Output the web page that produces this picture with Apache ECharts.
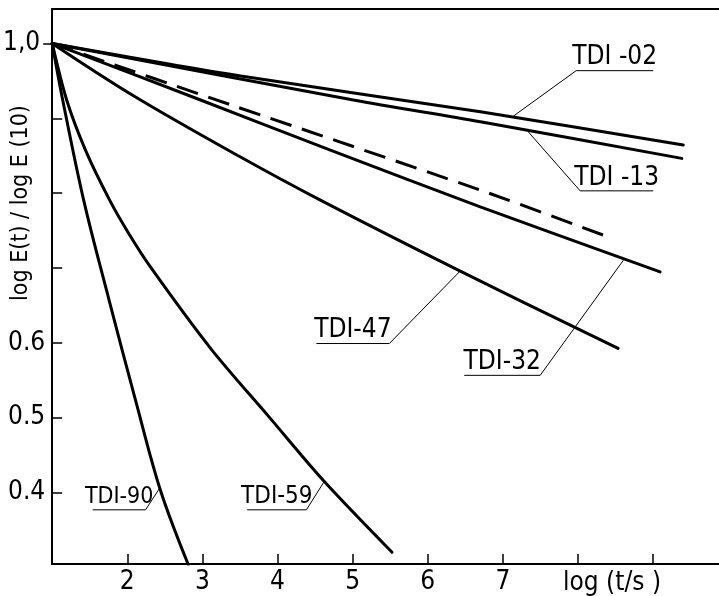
<!DOCTYPE html>
<html><head><meta charset="utf-8">
<script src="https://cdn.jsdelivr.net/npm/echarts@6/dist/echarts.min.js"></script>
<style>html,body{margin:0;padding:0;background:#fff}#c{width:719px;height:596px}</style>
</head><body><div id="c"></div>
<script>
const FONT = "'DejaVu Sans Condensed','Liberation Sans Narrow','Liberation Sans',sans-serif";

// ---- data (log(t/s), logE(t)/logE(10)) ----
const tdi02X = [1, 3.51, 6.70, 9.40];
const tdi02Y = [1.0, 0.9565, 0.9088, 0.8642];
const tdi13X = [1, 5.01, 6.70, 9.38];
const tdi13Y = [1.0, 0.9244, 0.8954, 0.8464];
const dashX = [1, 3.375, 6.698, 8.40];
const dashY = [1.0, 0.918, 0.804, 0.7415];
const tdi32X = [1, 2.975, 4.703, 6.698, 9.092];
const tdi32Y = [1.0, 0.9244, 0.8575, 0.7817, 0.6947];
const tdi47X = [1, 2.110, 3.507, 4.570, 6.432, 8.533];
const tdi47Y = [1.0, 0.9284, 0.8482, 0.7906, 0.6957, 0.5926];
const tdi59X = [1, 1.193, 1.443, 1.765, 2.017, 2.310, 3.108, 3.892, 4.610, 5.524];
const tdi59Y = [1.0, 0.9244, 0.8575, 0.7906, 0.7464, 0.7010, 0.5926, 0.5003, 0.4160, 0.3201];
const tdi90X = [1, 1.140, 1.419, 1.758, 2.110, 2.442, 2.811];
const tdi90Y = [1.0, 0.9244, 0.7906, 0.6568, 0.5231, 0.4027, 0.3037];

// ---- axes ----
const xTickValues = [2, 3, 4, 5, 6, 7, 8, 9];
const xLabelValues = [2, 3, 4, 5, 6, 7];
const xAxisTitle = 'log (t/s )';
const yTickValues = [0.4, 0.5, 0.6, 0.7, 0.8, 0.9];
const yLabelValues = [0.4, 0.5, 0.6, 1.0];
const yLabelTexts = ['0.4', '0.5', '0.6', '1,0'];
const yAxisTitle = 'log E(t) / log E (10)';

// ---- curve annotations (data coords) ----
const labelNames = ['TDI -02', 'TDI -13', 'TDI-47', 'TDI-32', 'TDI-90', 'TDI-59'];
const labelFontPx = [26, 26, 26, 26, 23, 24];
const leaderTipX = [7.141, 7.336, 6.432, 8.604, 2.434, 4.624];
const leaderTipY = [0.903, 0.882, 0.696, 0.7104, 0.4063, 0.4151];
const elbowX = [7.975, 8.028, 5.488, 7.496, 2.243, 4.384];
const elbowY = [0.9636, 0.803, 0.599, 0.5565, 0.3768, 0.3768];
const underlineEndX = [9.00, 9.00, 4.517, 6.485, 1.539, 3.596];

const zip = (xs, ys) => xs.map((x, i) => [x, ys[i]]);
const X_MIN = 1, X_MAX = 9.876, Y_MIN = 0.3044, Y_MAX = 1.046;

const chart = echarts.init(document.getElementById('c'), null, {renderer: 'canvas'});
const solid = {color: '#000', width: 3, cap: 'round'};
function ser(xs, ys, smooth, dashed) {
  return {
    type: 'line', data: zip(xs, ys), showSymbol: false, smooth: smooth,
    lineStyle: Object.assign({}, solid, dashed ? {type: [22, 11], cap: 'butt'} : {}),
    silent: true
  };
}
const axisTextStyle = {color: '#000', fontFamily: FONT, fontSize: 26};

chart.setOption({
  animation: false,
  backgroundColor: '#fff',
  grid: {left: 51, right: 0, top: 9, bottom: 32, containLabel: false},
  xAxis: [{
    type: 'value', min: X_MIN, max: X_MAX, position: 'bottom',
    axisLine: {show: true, lineStyle: {color: '#000', width: 2}},
    axisTick: {show: true, inside: true, length: 10, customValues: xTickValues, lineStyle: {color: '#000', width: 1.5}},
    axisLabel: Object.assign({customValues: xLabelValues, margin: 5, formatter: v => String(Math.round(v))}, axisTextStyle),
    splitLine: {show: false}
  }, {
    type: 'value', min: X_MIN, max: X_MAX, position: 'top',
    axisLine: {show: true, onZero: false, lineStyle: {color: '#000', width: 2}},
    axisTick: {show: false}, axisLabel: {show: false}, splitLine: {show: false}
  }],
  yAxis: [{
    type: 'value', min: Y_MIN, max: Y_MAX, position: 'left',
    axisLine: {show: true, lineStyle: {color: '#000', width: 2}},
    axisTick: {show: true, inside: true, length: 10, customValues: yTickValues, lineStyle: {color: '#000', width: 1.5}},
    axisLabel: Object.assign({
      customValues: yLabelValues, margin: 7,
      formatter: v => {
        const i = yLabelValues.findIndex(u => Math.abs(u - v) < 1e-6);
        const t = i >= 0 ? yLabelTexts[i] : '';
        return Math.abs(v - 1) < 1e-6 ? '{o|' + t + '}' : t;
      },
      rich: {o: {padding: [0, 5, 0, 0], color: '#000', fontFamily: FONT, fontSize: 26}}
    }, axisTextStyle),
    splitLine: {show: false}
  }, {
    type: 'value', min: Y_MIN, max: Y_MAX, position: 'left',
    axisLine: {show: false},
    axisTick: {show: true, inside: false, length: 9, customValues: [1.0], lineStyle: {color: '#000', width: 1.5}},
    axisLabel: {show: false}, splitLine: {show: false}
  }],
  series: [
    ser(tdi02X, tdi02Y, 0.3, false),
    ser(tdi13X, tdi13Y, 0.3, false),
    ser(dashX, dashY, 0.3, true),
    ser(tdi32X, tdi32Y, 0.3, false),
    ser(tdi47X, tdi47Y, 0.35, false),
    ser(tdi59X, tdi59Y, 0.3, false),
    ser(tdi90X, tdi90Y, 0.35, false)
  ]
});

const px = p => chart.convertToPixel({gridIndex: 0}, p);
const g = [];
labelNames.forEach((name, i) => {
  const p0 = px([leaderTipX[i], leaderTipY[i]]);
  const p1 = px([elbowX[i], elbowY[i]]);
  const p2 = px([underlineEndX[i], elbowY[i]]);
  g.push({type: 'polyline', silent: true, shape: {points: [p0, p1, p2]},
          style: {stroke: '#000', lineWidth: 1, fill: null}});
  g.push({type: 'text', silent: true, x: (p1[0] + p2[0]) / 2, y: p1[1] - 13,
          style: {text: name, fill: '#000', font: labelFontPx[i] + 'px ' + FONT, align: 'center', verticalAlign: 'middle'}});
});
g.push({type: 'text', silent: true, x: 612, y: 583,
        style: {text: xAxisTitle, fill: '#000', font: '26px ' + FONT, align: 'center', verticalAlign: 'middle'}});
g.push({type: 'text', silent: true, x: 21, y: 203, rotation: Math.PI / 2,
        style: {text: yAxisTitle, fill: '#000', font: '23px ' + FONT, align: 'center', verticalAlign: 'middle'}});
chart.setOption({graphic: {elements: g}});
</script></body></html>
